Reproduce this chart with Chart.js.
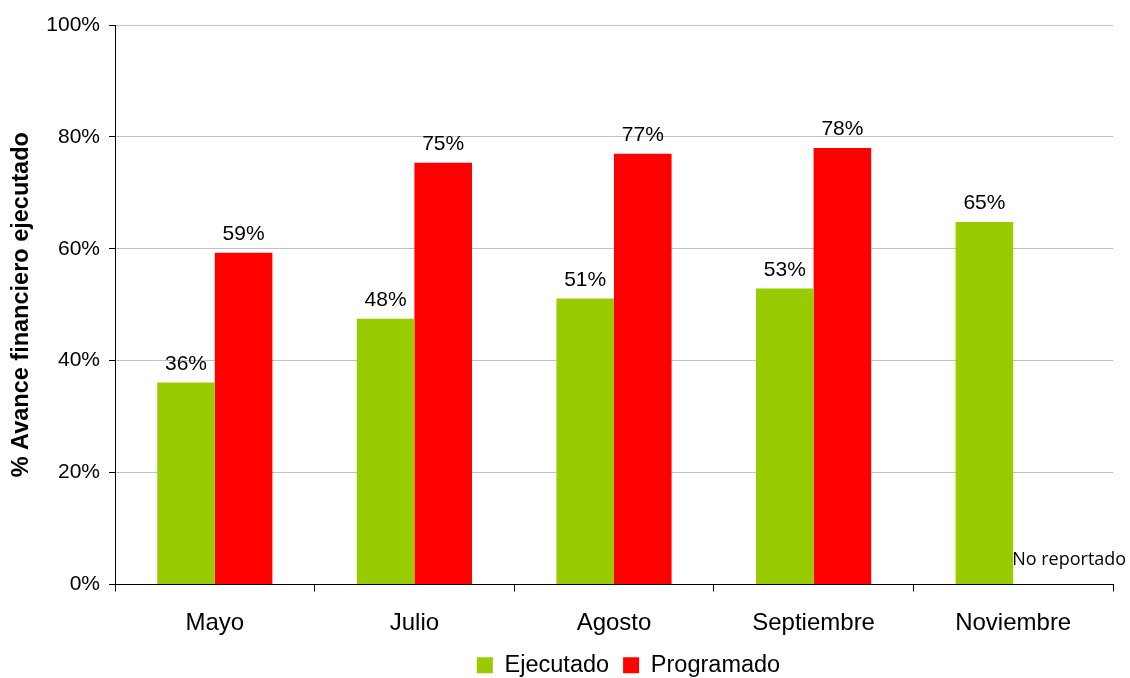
<!DOCTYPE html>
<html>
<head>
<meta charset="utf-8">
<script src="https://cdn.jsdelivr.net/npm/chart.js@4"></script>
<style>
  html, body { margin: 0; padding: 0; background: #fff; }
  #wrap { width: 1130px; height: 678px; }
</style>
</head>
<body>
<div id="wrap"><canvas id="avanceChart" width="1130" height="678"></canvas></div>
<script>
// Avance financiero por mes
const meses = ['Mayo', 'Julio', 'Agosto', 'Septiembre', 'Noviembre'];
const ejecutado = [36.1, 47.5, 51.1, 52.9, 64.8];
const programado = [59.3, 75.4, 77.0, 78.0, null];
const yTicks = [0, 20, 40, 60, 80, 100];

const FONT = "'Liberation Sans', Arial, sans-serif";

// etiquetas de valor encima de cada barra + nota de "No reportado"
const barLabels = {
    id: 'barLabels',
    afterDatasetsDraw(chart) {
        const ctx = chart.ctx;
        ctx.save();
        ctx.fillStyle = '#000';
        ctx.font = '21px ' + FONT;
        ctx.textAlign = 'center';
        ctx.textBaseline = 'alphabetic';
        chart.data.datasets.forEach((ds, i) => {
            chart.getDatasetMeta(i).data.forEach((bar, j) => {
                const v = ds.data[j];
                if (v === null) return;
                ctx.fillText(Math.round(v) + '%', bar.x, bar.y - 13);
            });
        });

        // Noviembre sin dato programado
        const idx = programado.findIndex(v => v === null);
        if (idx >= 0) {
            const x = chart.scales.x.getPixelForValue(idx);
            const y = chart.scales.y.getPixelForValue(0);
            ctx.font = "18px 'Open Sans', sans-serif";
            ctx.textAlign = 'left';
            ctx.fillText('No reportado', x - 1, y - 20);
        }
        ctx.restore();
    }
};

// corre la leyenda un poco a la derecha del centro
const legendShift = {
    id: 'legendShift',
    afterLayout(chart) {
        const dx = 72;
        chart.legend.left += dx;
        chart.legend.right += dx;
    }
};

new Chart(document.getElementById('avanceChart').getContext('2d'), {
    type: 'bar',
    data: {
        labels: meses,
        datasets: [{
            label: 'Ejecutado',
            data: ejecutado,
            backgroundColor: '#99cc00',
            categoryPercentage: 0.577,
            barPercentage: 1.0
        }, {
            label: 'Programado',
            data: programado,
            backgroundColor: '#ff0000',
            categoryPercentage: 0.577,
            barPercentage: 1.0
        }]
    },
    options: {
        responsive: false,
        animation: false,
        // la leyenda queda pegada al borde inferior
        layout: { padding: { left: 0, right: 17, top: 25, bottom: -9 } },
        plugins: {
            legend: {
                position: 'bottom',
                labels: {
                    color: '#000',
                    font: { family: FONT, size: 23.5 },
                    boxWidth: 16,
                    boxHeight: 16,
                    padding: 14
                }
            },
            tooltip: { enabled: false }
        },
        scales: {
            x: {
                grid: {
                    offset: true,
                    drawOnChartArea: false,
                    drawTicks: true,
                    tickLength: 7,
                    tickColor: '#000'
                },
                border: { color: '#000', width: 1 },
                ticks: {
                    color: '#000',
                    font: { family: FONT, size: 24 },
                    padding: 17
                },
                afterFit(scale) { scale.height = 55; }
            },
            y: {
                min: 0,
                max: 100,
                afterBuildTicks(scale) {
                    scale.ticks = yTicks.map(v => ({ value: v }));
                },
                grid: {
                    color: '#c0c0c0',
                    tickColor: '#000',
                    tickLength: 6
                },
                border: { color: '#000', width: 1 },
                ticks: {
                    color: '#000',
                    font: { family: FONT, size: 21 },
                    padding: 9,
                    callback: v => v + '%'
                },
                title: {
                    display: true,
                    text: '% Avance financiero ejecutado',
                    color: '#000',
                    font: { family: FONT, size: 23.5, weight: 'bold' },
                    padding: { top: 7, bottom: 0 }
                },
                afterFit(scale) { scale.width = 115; }
            }
        }
    },
    plugins: [barLabels, legendShift]
});
</script>
</body>
</html>
